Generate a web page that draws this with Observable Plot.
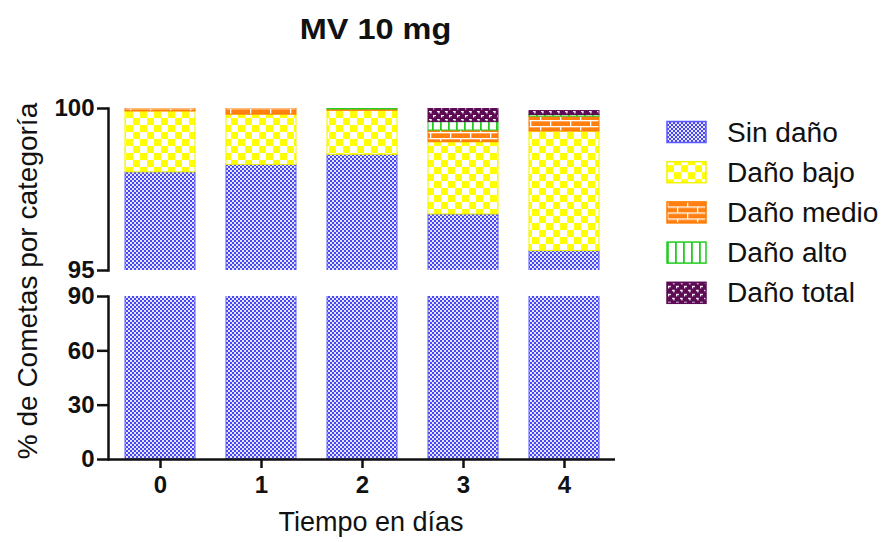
<!DOCTYPE html>
<html>
<head>
<meta charset="utf-8">
<script src="https://cdn.jsdelivr.net/npm/d3@7"></script>
<script src="https://cdn.jsdelivr.net/npm/@observablehq/plot@0.6"></script>
<style>
  html, body { margin: 0; padding: 0; background: #fff; }
  #chart { position: relative; width: 885px; height: 542px; font-family: "Liberation Sans", Arial, sans-serif; color: #111; }
  #chart > svg, #chart > .panel { position: absolute; left: 0; }
  #top { top: 90px; }
  #bottom { top: 280px; }
  #overlay { top: 0; left: 0; pointer-events: none; }
</style>
</head>
<body>
<div id="chart">
  <!-- fill patterns shared by the bars and the legend -->
  <svg width="0" height="0" style="position:absolute">
    <defs>
      <pattern id="p-sin" width="4" height="4" patternUnits="userSpaceOnUse">
        <rect width="4" height="4" fill="#e4e4ff"/>
        <rect width="2" height="2" fill="#4848f0"/>
        <rect x="2" y="2" width="2" height="2" fill="#4848f0"/>
      </pattern>
      <pattern id="p-bajo" width="14" height="14" patternUnits="userSpaceOnUse">
        <rect width="14" height="14" fill="#ffff00"/>
        <rect width="7" height="7" fill="#ffffff"/>
        <rect x="7" y="7" width="7" height="7" fill="#ffffff"/>
      </pattern>
      <pattern id="p-medio" width="20" height="12" patternUnits="userSpaceOnUse">
        <rect width="20" height="12" fill="#ff7f10"/>
        <rect y="0" width="20" height="1.3" fill="#ffffff"/>
        <rect y="6" width="20" height="1.3" fill="#ffffff"/>
        <rect x="0" y="0" width="1.3" height="6" fill="#ffffff"/>
        <rect x="10" y="6" width="1.3" height="6" fill="#ffffff"/>
      </pattern>
      <pattern id="p-alto" width="8" height="8" patternUnits="userSpaceOnUse">
        <rect width="8" height="8" fill="#ffffff"/>
        <rect width="1.8" height="8" fill="#22cc22"/>
      </pattern>
      <pattern id="p-total" width="8" height="8" patternUnits="userSpaceOnUse">
        <rect width="8" height="8" fill="#5e0b55"/>
        <rect x="1" y="1" width="3" height="1.2" fill="#ffffff"/>
        <rect x="1" y="1" width="1.2" height="2.5" fill="#ffffff"/>
        <rect x="5" y="5" width="2.5" height="1.2" fill="#ffffff"/>
        <rect x="6.3" y="5" width="1.2" height="2.5" fill="#ffffff"/>
      </pattern>
    </defs>
  </svg>
  <div id="top" class="panel"></div>
  <div id="bottom" class="panel"></div>
  <svg id="overlay" width="885" height="542"></svg>
</div>
<script>
// Comet assay categories per day (percent of comets)
const days = ["0", "1", "2", "3", "4"];
const categories = ["Sin daño", "Daño bajo", "Daño medio", "Daño alto", "Daño total"];
const sinDano   = [98.03, 98.26, 98.57, 96.73, 95.60];
const danoBajo  = [1.88, 1.55, 1.36, 2.23, 3.69];
const danoMedio = [0.09, 0.19, 0.04, 0.36, 0.46];
const danoAlto  = [0.00, 0.00, 0.03, 0.26, 0.05];
const danoTotal = [0.00, 0.00, 0.00, 0.42, 0.12];
const yTicksUpper = [95, 100];
const yTicksLower = [0, 30, 60, 90];

const seriesValues = [sinDano, danoBajo, danoMedio, danoAlto, danoTotal];
const patternId = {"Sin daño": "p-sin", "Daño bajo": "p-bajo", "Daño medio": "p-medio", "Daño alto": "p-alto", "Daño total": "p-total"};
const edgeColor = {"Sin daño": "#5a5aff", "Daño bajo": "#f2f200", "Daño medio": "#ff7a00", "Daño alto": "#22cc22", "Daño total": "#5e0b55"};

// long table, stacked bottom-to-top in category order
const rows = categories.flatMap((category, i) =>
  days.map((day, j) => ({day, category, value: seriesValues[i][j]}))
).filter(d => d.value > 0);

const font = "'Liberation Sans', Arial, sans-serif";
const xScale = {domain: days, paddingInner: 0.31, paddingOuter: 0.148, align: 0.5};

function bars() {
  return Plot.barY(rows, {
    x: "day", y: "value", z: "category",
    fill: d => `url(#${patternId[d.category]})`,
    stroke: d => edgeColor[d.category],
    strokeWidth: 1,
    clip: true
  });
}

// upper panel: 95–100
const upper = Plot.plot({
  width: 640, height: 205,
  marginLeft: 108, marginRight: 25, marginTop: 18, marginBottom: 25,
  style: {fontFamily: font, color: "#111", background: "transparent", overflow: "visible"},
  x: {...xScale, axis: null},
  y: {domain: [95, 100], label: null},
  color: {type: "identity"},
  marks: [
    bars(),
    Plot.axisY(yTicksUpper, {tickSize: 11, tickPadding: 3, fontSize: 24, fontWeight: "bold", strokeWidth: 2.5, label: null}),
    Plot.frame({anchor: "left", strokeWidth: 2.5})
  ]
});
document.getElementById("top").append(upper);

// lower panel: 0–90
const lower = Plot.plot({
  width: 640, height: 220,
  marginLeft: 108, marginRight: 25, marginTop: 16, marginBottom: 41,
  style: {fontFamily: font, color: "#111", background: "transparent", overflow: "visible"},
  x: {...xScale, label: null},
  y: {domain: [0, 90], label: null},
  color: {type: "identity"},
  marks: [
    bars(),
    Plot.axisY(yTicksLower, {tickSize: 11, tickPadding: 3, fontSize: 24, fontWeight: "bold", strokeWidth: 2.5, label: null}),
    Plot.axisX({tickSize: 9, tickPadding: 7, fontSize: 24, fontWeight: "bold", strokeWidth: 2.5, label: null}),
    Plot.frame({anchor: "left", strokeWidth: 2.5}),
    Plot.ruleY([0], {strokeWidth: 2.5})
  ]
});
document.getElementById("bottom").append(lower);

// titles and legend
const overlay = d3.select("#overlay").style("font-family", font);
overlay.append("text")
  .attr("transform", "translate(375.5,39) scale(1.12,1)")
  .attr("text-anchor", "middle")
  .attr("font-size", 29).attr("font-weight", "bold").attr("fill", "#111")
  .text("MV 10 mg");
overlay.append("text")
  .attr("x", 371).attr("y", 531)
  .attr("text-anchor", "middle")
  .attr("font-size", 27).attr("fill", "#111")
  .text("Tiempo en días");
overlay.append("text")
  .attr("transform", "translate(37,281) rotate(-90)")
  .attr("text-anchor", "middle")
  .attr("font-size", 28).attr("fill", "#111")
  .text("% de Cometas por categoría");

const legend = overlay.append("g");
categories.forEach((c, i) => {
  const g = legend.append("g").attr("transform", `translate(667,${132 + i * 40.2})`);
  g.append("rect")
    .attr("x", 0).attr("y", -10.5).attr("width", 39).attr("height", 21)
    .attr("fill", `url(#${patternId[c]})`)
    .attr("stroke", edgeColor[c]).attr("stroke-width", 1.5);
  g.append("text")
    .attr("transform", "translate(60,9.5) scale(1.04,1)")
    .attr("font-size", 27).attr("fill", "#111")
    .text(c);
});
</script>
</body>
</html>
